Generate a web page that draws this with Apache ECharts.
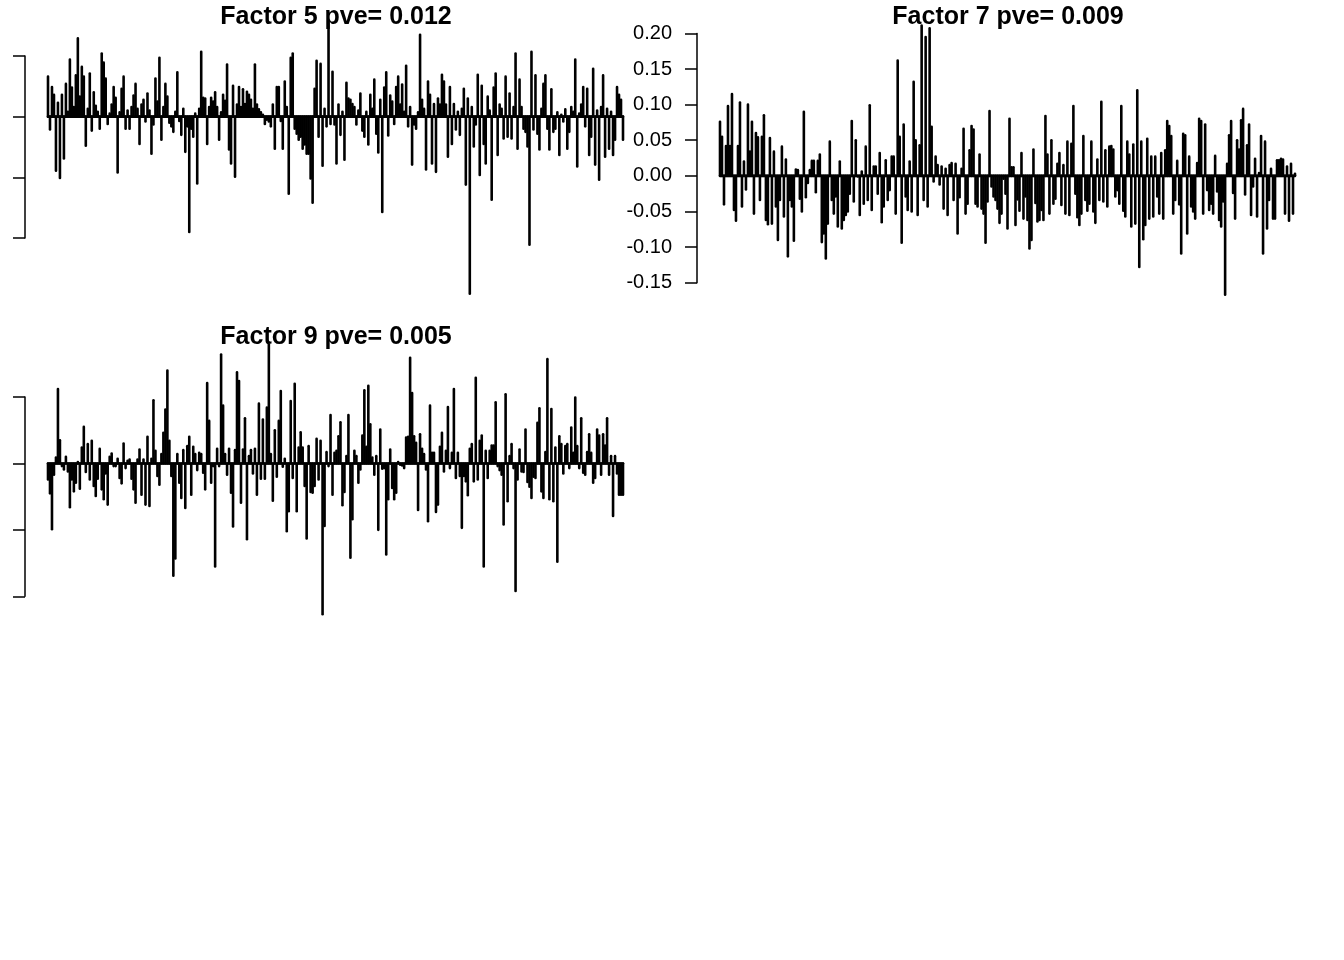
<!DOCTYPE html>
<html>
<head>
<meta charset="utf-8">
<script src="https://cdn.jsdelivr.net/npm/echarts@6.0.0/dist/echarts.min.js"></script>
<style>
html,body{margin:0;padding:0;background:#ffffff;}
#chart{width:1344px;height:960px;}
</style>
</head>
<body>
<div id="chart"></div>
<script>
// ---- data (loadings) ----
const panelTitles = ['Factor 5 pve= 0.012', 'Factor 7 pve= 0.009', 'Factor 9 pve= 0.005'];

const factor5Values = [
 0.066,-0.021,0.049,0.036,-0.089,0.023,-0.101,0.036,-0.069,0.054,
 0.008,0.094,0.048,0.016,0.068,0.129,0.033,0.082,0.066,-0.048,
 0.013,0.071,-0.023,0.040,0.018,0.008,-0.020,0.104,0.089,0.063,
 -0.012,0.005,0.020,0.049,0.031,-0.092,0.007,0.046,0.066,-0.020,
 0.010,-0.020,0.016,0.035,0.054,0.013,-0.045,0.020,0.028,-0.008,
 0.038,0.010,-0.061,-0.013,0.063,0.025,0.097,-0.038,0.016,0.054,
 0.033,-0.010,-0.016,-0.025,0.008,0.073,-0.007,-0.030,0.013,-0.058,
 -0.016,-0.190,-0.020,-0.033,0.005,-0.110,0.013,0.107,0.031,0.030,
 -0.045,0.016,0.031,0.025,0.040,0.016,-0.038,0.007,0.036,0.026,
 0.086,-0.054,-0.077,0.051,-0.099,0.020,0.049,0.016,0.045,0.021,
 0.041,0.036,0.028,0.013,0.086,0.020,0.012,0.007,0.003,-0.012,
 -0.005,-0.008,-0.016,0.020,-0.053,0.049,0.049,-0.007,-0.053,0.058,
 0.016,-0.127,0.097,0.104,-0.020,-0.028,-0.038,-0.033,-0.053,-0.046,
 -0.061,-0.061,-0.102,-0.142,0.046,0.092,-0.033,0.087,-0.081,0.013,
 -0.016,0.157,-0.012,0.074,-0.013,-0.077,0.020,-0.030,0.008,-0.071,
 0.056,0.030,0.028,0.021,0.016,-0.013,0.010,0.038,-0.023,-0.033,
 0.008,-0.046,0.036,0.013,0.061,-0.028,-0.059,0.028,-0.157,0.048,
 0.073,-0.031,0.035,0.025,-0.012,0.049,0.066,0.020,0.053,0.008,
 0.084,-0.016,0.016,-0.079,-0.013,-0.020,0.007,0.135,0.028,0.013,
 -0.087,0.058,0.036,-0.077,0.021,-0.091,0.030,0.020,0.069,0.058,
 0.020,-0.066,0.049,-0.045,0.021,-0.021,0.008,-0.030,0.013,0.046,
 -0.112,0.030,-0.292,0.016,-0.049,-0.013,0.069,-0.096,0.051,-0.045,
 -0.077,0.033,0.010,-0.137,0.048,0.071,-0.063,0.020,0.013,-0.036,
 0.066,-0.033,0.038,-0.036,0.016,0.104,-0.053,0.061,0.016,-0.020,
 -0.025,-0.049,-0.211,0.107,-0.021,0.068,-0.028,-0.054,0.013,0.054,
 0.068,-0.020,-0.054,0.045,-0.025,-0.020,0.007,-0.063,0.003,-0.008,
 0.012,-0.053,-0.025,0.016,0.008,0.094,-0.082,0.005,0.020,0.049,
 -0.016,0.046,-0.063,-0.033,0.079,-0.079,0.010,-0.104,0.016,0.068,
 -0.066,0.013,-0.053,0.008,-0.063,-0.038,0.049,0.036,0.028,-0.038
];

const factor7Values = [
 0.076,0.055,-0.040,0.042,0.098,0.042,0.115,-0.048,-0.063,0.042,
 0.103,-0.043,0.020,-0.019,0.100,0.034,0.076,-0.053,0.060,0.054,
 -0.034,0.055,0.085,-0.062,-0.068,0.053,-0.067,0.034,-0.043,-0.090,
 -0.034,0.041,-0.057,0.023,-0.113,-0.034,-0.043,-0.091,0.009,0.008,
 -0.032,-0.050,0.090,-0.030,-0.010,0.008,0.021,0.021,-0.023,0.021,
 0.030,-0.093,-0.081,-0.116,-0.067,0.048,-0.034,-0.053,-0.029,-0.071,
 0.020,-0.074,-0.062,-0.055,-0.050,-0.025,0.077,-0.036,0.050,-0.001,
 -0.055,0.006,-0.039,0.041,-0.034,0.099,-0.048,0.013,0.013,-0.025,
 0.032,-0.065,-0.043,0.022,-0.034,-0.020,0.027,0.027,-0.053,0.162,
 0.055,-0.094,0.072,-0.029,-0.048,0.020,-0.050,0.132,0.050,-0.055,
 0.043,0.211,-0.034,0.195,-0.043,0.207,0.069,-0.008,0.027,0.015,
 -0.012,0.013,-0.046,0.010,-0.055,0.015,0.018,-0.034,0.017,-0.081,
 -0.030,0.010,0.066,-0.053,
 -0.039,0.036,0.070,0.065,-0.039,-0.043,0.030,-0.046,-0.053,-0.094,
 -0.036,0.091,-0.015,-0.029,-0.034,-0.046,-0.066,-0.053,-0.004,-0.025,
 -0.074,0.080,0.012,0.012,-0.069,-0.033,-0.049,0.032,-0.060,-0.029,
 -0.062,-0.102,-0.090,0.037,-0.038,-0.064,-0.062,-0.048,-0.062,0.084,
 0.030,-0.053,0.050,-0.039,-0.032,0.017,0.032,-0.041,0.015,-0.053,
 0.048,-0.055,0.045,0.098,-0.025,-0.058,-0.069,-0.053,0.056,-0.034,
 -0.049,-0.039,0.048,-0.050,-0.066,0.023,-0.034,0.104,-0.036,0.036,
 -0.043,0.041,0.042,0.037,-0.029,-0.020,-0.039,0.098,-0.049,-0.057,
 0.048,0.030,-0.071,0.044,-0.067,0.120,-0.128,0.048,-0.089,-0.069,
 0.052,-0.060,0.027,-0.057,0.027,-0.029,-0.053,0.032,-0.060,0.036,
 0.077,0.070,0.056,-0.053,-0.034,0.021,-0.040,-0.109,0.059,0.057,
 -0.081,0.027,-0.043,-0.050,-0.060,0.018,0.080,0.077,-0.053,0.072,
 -0.020,-0.048,-0.039,-0.053,0.028,-0.022,-0.062,-0.071,-0.036,-0.167,
 0.017,0.057,0.077,-0.024,-0.060,0.050,0.037,0.078,0.094,-0.026,
 0.043,0.072,-0.055,-0.015,0.024,-0.057,0.004,0.056,-0.109,0.048,
 -0.074,-0.034,0.010,-0.060,-0.060,0.022,0.022,0.024,0.023,-0.053,
 0.013,-0.063,0.017,-0.053,0.003
];

const factor9Values = [
 -0.024,-0.045,-0.099,-0.017,0.009,0.112,0.035,-0.004,-0.009,0.010,
 -0.012,-0.066,-0.024,-0.042,-0.029,0.002,-0.038,0.024,0.055,-0.013,
 0.029,-0.024,0.034,-0.034,-0.049,-0.023,0.022,-0.039,-0.054,-0.015,
 -0.062,0.010,0.015,-0.004,-0.004,0.007,-0.022,-0.030,0.030,-0.007,
 0.004,0.006,-0.023,-0.039,-0.059,0.006,0.021,-0.047,0.006,-0.062,
 0.040,-0.064,0.007,0.095,0.019,-0.019,-0.032,0.014,0.046,0.081,
 0.140,0.034,-0.019,-0.169,-0.143,0.014,-0.029,-0.052,0.020,-0.067,
 0.026,0.040,-0.047,0.025,0.014,-0.010,0.016,0.014,-0.014,-0.039,
 0.121,0.064,-0.029,-0.004,-0.155,0.022,-0.004,0.164,0.087,0.014,
 -0.017,0.022,-0.044,-0.095,0.020,0.137,0.124,-0.059,0.021,0.068,
 -0.114,0.011,0.020,-0.015,0.022,-0.047,0.090,-0.023,0.066,-0.023,
 0.084,0.179,0.014,-0.056,0.050,-0.020,0.064,0.109,-0.005,0.007,
 -0.102,-0.072,0.094,-0.022,0.120,-0.072,0.024,0.047,0.024,-0.034,
 -0.113,0.026,-0.043,-0.044,-0.034,0.037,-0.024,0.034,-0.227,-0.094,
 0.017,
 -0.004,0.073,-0.047,0.016,0.019,0.041,0.062,-0.063,-0.043,0.011,
 0.073,-0.142,-0.084,0.019,0.011,-0.029,-0.009,0.042,0.110,0.025,
 0.117,0.059,0.009,-0.017,0.011,-0.100,0.051,-0.008,-0.007,-0.137,
 -0.054,0.021,-0.037,-0.054,-0.044,0.002,-0.002,-0.003,-0.007,0.039,
 0.040,0.159,0.106,0.041,0.031,-0.070,0.044,0.022,0.014,-0.009,
 -0.087,0.087,0.016,0.016,-0.073,-0.062,0.025,0.046,-0.012,0.019,
 0.085,-0.007,0.016,0.112,-0.022,0.016,-0.019,-0.097,-0.019,-0.027,
 -0.048,0.022,0.029,-0.027,0.129,-0.024,0.034,0.042,-0.155,0.019,
 -0.022,0.019,0.027,0.027,0.092,-0.004,-0.010,-0.017,-0.092,0.104,
 -0.057,0.011,0.029,-0.007,-0.192,-0.024,0.021,-0.012,-0.013,0.051,
 -0.028,-0.035,-0.052,-0.020,-0.022,0.061,0.083,-0.042,-0.052,0.017,
 0.157,-0.054,0.082,-0.057,0.024,-0.148,0.041,0.029,-0.015,0.026,
 0.029,-0.007,0.054,0.016,0.099,0.026,-0.007,0.068,-0.014,-0.017,
 0.017,0.044,0.016,-0.029,-0.022,0.051,0.042,-0.017,0.044,0.027,
 0.068,-0.017,0.011,-0.079,0.011,-0.015,-0.047,-0.047,-0.047
];

// ---- layout / style ----
const FONT = 'Liberation Sans, Arial, Helvetica, sans-serif';
const LINE_W = 2.6;
const panels = [
  { values: factor5Values, title: panelTitles[0], left: 25,  top: 56,   height: 182,   yMin: -0.2,  yMax: 0.1, yStep: 0.1,  labels: false, titleX: 331,  titleY: 0 },
  { values: factor7Values, title: panelTitles[1], left: 697, top: 33.4, height: 249.3, yMin: -0.15, yMax: 0.2, yStep: 0.05, labels: true,  titleX: 1003, titleY: 0 },
  { values: factor9Values, title: panelTitles[2], left: 25,  top: 397,  height: 199.3, yMin: -0.2,  yMax: 0.1, yStep: 0.1,  labels: false, titleX: 331,  titleY: 320 }
];
const PLOT_W = 621;

// R type="h" spikes: a vertical line from 0 to each value, round caps
function spike(params, api) {
  const x = api.value(0), v = api.value(1);
  const p0 = api.coord([x, 0]);
  const p1 = api.coord([x, v]);
  return {
    type: 'line',
    shape: { x1: p0[0], y1: p0[1], x2: p1[0], y2: p1[1] },
    style: { stroke: '#000', lineWidth: LINE_W, lineCap: 'round' }
  };
}

const option = {
  animation: false,
  backgroundColor: '#ffffff',
  title: panels.map(p => ({
    text: p.title, left: p.titleX, top: p.titleY, textAlign: 'center',
    textStyle: { fontSize: 25, fontWeight: 'bold', fontFamily: FONT, color: '#000' }
  })),
  grid: panels.map(p => ({ left: p.left, top: p.top, width: PLOT_W, height: p.height, containLabel: false })),
  xAxis: panels.map((p, i) => {
    const n = p.values.length, ext = 0.04 * (n - 1);
    return { gridIndex: i, type: 'value', min: 1 - ext, max: n + ext, show: false };
  }),
  yAxis: panels.map((p, i) => ({
    gridIndex: i, type: 'value', min: p.yMin, max: p.yMax, interval: p.yStep,
    axisLine: { show: true, onZero: false, lineStyle: { color: '#000', width: 1.5 } },
    axisTick: { show: true, length: 12, lineStyle: { color: '#000', width: 1.5 } },
    axisLabel: {
      show: p.labels, fontSize: 20, color: '#000', fontFamily: FONT, margin: 25,
      formatter: v => (Math.abs(v) < 1e-9 ? 0 : v).toFixed(2)
    },
    splitLine: { show: false }
  })),
  series: panels.flatMap((p, i) => [
    {
      type: 'line', xAxisIndex: i, yAxisIndex: i, symbol: 'none', clip: false, silent: true,
      lineStyle: { color: '#000', width: LINE_W, cap: 'round' },
      data: [[1, 0], [p.values.length, 0]]
    },
    {
      type: 'custom', xAxisIndex: i, yAxisIndex: i, clip: false, silent: true,
      renderItem: spike,
      encode: { x: 0, y: 1 },
      data: p.values.map((v, k) => [k + 1, v])
    }
  ])
};

const chart = echarts.init(document.getElementById('chart'), null, { renderer: 'canvas' });
chart.setOption(option);
</script>
</body>
</html>
